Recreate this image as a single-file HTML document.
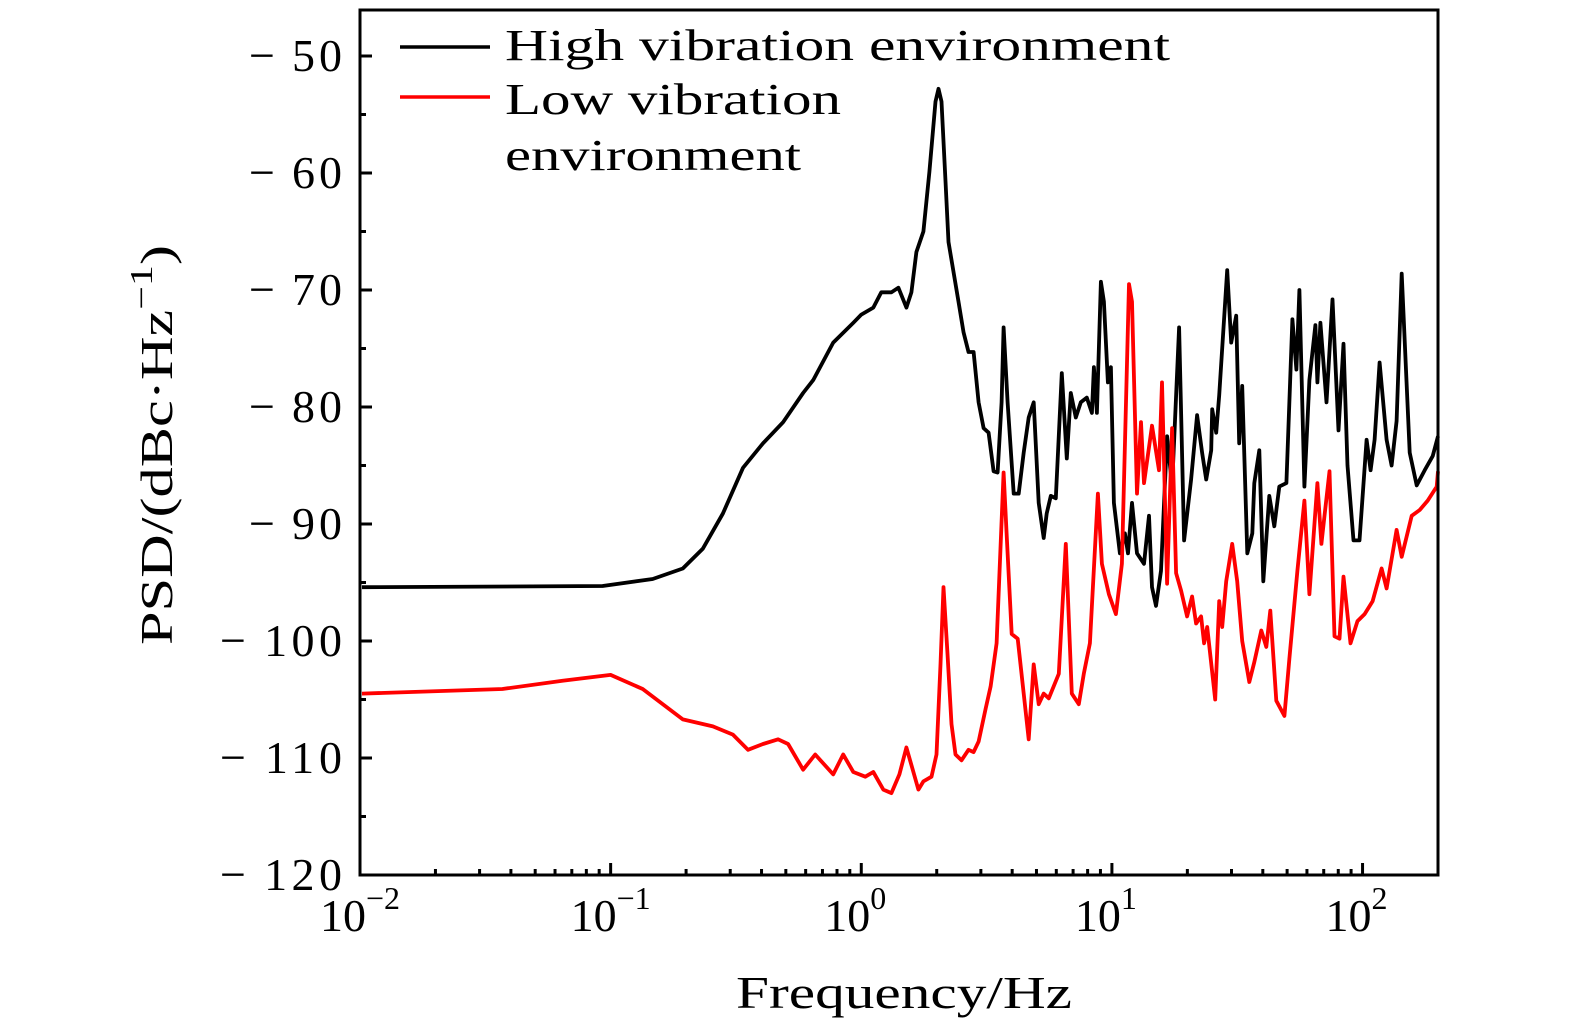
<!DOCTYPE html>
<html><head><meta charset="utf-8"><style>
html,body{margin:0;padding:0;background:#fff}
svg{display:block}
text{font-family:"Liberation Serif",serif;fill:#000}
</style></head><body>
<svg id="chart" width="1575" height="1035" viewBox="0 0 1575 1035" xmlns="http://www.w3.org/2000/svg">
<g id="plot"></g>
</svg>
<script>
// ---- data (frequency as log10(Hz), PSD in dBc/Hz) ----
const highLogFreq = [-1.992,-1.032,-0.832,-0.712,-0.632,-0.552,-0.472,-0.392,-0.312,-0.232,-0.192,-0.112,-0.032,0,0.048,0.08,0.12,0.148,0.18,0.2,0.22,0.248,0.272,0.296,0.308,0.32,0.336,0.348,0.388,0.408,0.428,0.448,0.468,0.488,0.508,0.528,0.544,0.56,0.568,0.584,0.608,0.628,0.648,0.668,0.688,0.708,0.728,0.74,0.756,0.776,0.8,0.82,0.836,0.856,0.876,0.9,0.92,0.928,0.94,0.956,0.968,0.984,0.996,1.008,1.032,1.052,1.064,1.08,1.1,1.128,1.148,1.16,1.176,1.196,1.22,1.24,1.268,1.288,1.316,1.34,1.36,1.376,1.396,1.4,1.416,1.428,1.46,1.476,1.496,1.508,1.52,1.54,1.56,1.568,1.588,1.604,1.628,1.648,1.668,1.696,1.72,1.736,1.748,1.768,1.788,1.812,1.82,1.832,1.856,1.88,1.904,1.924,1.94,1.964,1.988,2.016,2.032,2.048,2.068,2.096,2.116,2.136,2.156,2.188,2.216,2.248,2.28,2.301];
const highPSD = [-95.4,-95.3,-94.7,-93.8,-92.1,-89.1,-85.2,-83.1,-81.3,-78.8,-77.7,-74.5,-72.8,-72.1,-71.5,-70.2,-70.2,-69.8,-71.5,-70.2,-66.75,-65.0,-59.9,-53.9,-52.8,-53.9,-60.7,-65.9,-71.0,-73.6,-75.3,-75.3,-79.6,-81.8,-82.2,-85.5,-85.6,-79.6,-73.2,-79.6,-87.4,-87.4,-83.9,-80.9,-79.6,-88.2,-91.2,-89.1,-87.6,-87.8,-77.1,-84.4,-78.8,-80.9,-79.6,-79.2,-80.5,-76.6,-80.5,-69.3,-71.0,-77.9,-76.6,-88.2,-92.5,-90.8,-92.5,-88.2,-92.5,-93.4,-89.3,-95.4,-97.0,-94.0,-82.5,-86.8,-73.2,-91.4,-86.2,-80.7,-83.9,-86.2,-83.7,-80.2,-82.2,-79.0,-68.3,-74.5,-72.2,-83.1,-78.2,-92.5,-90.8,-86.5,-83.7,-94.9,-87.6,-90.2,-86.8,-86.5,-72.5,-76.8,-70.0,-86.8,-77.7,-73.0,-77.9,-72.8,-79.6,-70.8,-82.0,-74.6,-85.0,-91.4,-91.4,-82.8,-85.4,-82.8,-76.2,-82.8,-85.0,-81.2,-68.6,-83.9,-86.7,-85.4,-84.2,-82.5];
const lowLogFreq = [-1.992,-1.432,-1.192,-1.0,-0.872,-0.712,-0.592,-0.512,-0.452,-0.392,-0.332,-0.292,-0.232,-0.184,-0.112,-0.072,-0.032,0.016,0.048,0.088,0.12,0.152,0.18,0.2,0.228,0.248,0.28,0.3,0.316,0.328,0.344,0.36,0.376,0.4,0.428,0.448,0.468,0.496,0.516,0.54,0.568,0.58,0.6,0.624,0.648,0.668,0.688,0.708,0.728,0.748,0.788,0.816,0.84,0.868,0.888,0.912,0.944,0.96,0.988,1.016,1.04,1.068,1.08,1.1,1.116,1.128,1.16,1.188,1.2,1.22,1.24,1.256,1.276,1.3,1.32,1.336,1.356,1.368,1.38,1.412,1.428,1.44,1.456,1.48,1.5,1.52,1.548,1.568,1.596,1.616,1.632,1.656,1.688,1.708,1.74,1.768,1.788,1.82,1.836,1.848,1.868,1.888,1.908,1.924,1.952,1.98,2.008,2.04,2.076,2.096,2.136,2.156,2.196,2.228,2.26,2.296,2.301];
const lowPSD = [-104.5,-104.1,-103.4,-102.9,-104.1,-106.7,-107.3,-108.0,-109.3,-108.8,-108.4,-108.8,-111.0,-109.7,-111.4,-109.7,-111.2,-111.6,-111.2,-112.7,-113.0,-111.4,-109.1,-110.6,-112.7,-112.0,-111.6,-109.7,-102.0,-95.4,-101.1,-107.1,-109.7,-110.2,-109.3,-109.5,-108.6,-105.8,-103.9,-100.2,-85.6,-90.8,-99.4,-99.8,-104.5,-108.4,-102.0,-105.4,-104.5,-104.9,-102.8,-91.7,-104.5,-105.4,-102.8,-100.2,-87.4,-93.4,-96.0,-97.7,-93.4,-69.5,-71.0,-87.4,-81.3,-86.5,-81.6,-85.4,-77.9,-95.1,-81.8,-94.2,-95.7,-97.9,-96.2,-98.5,-97.9,-100.2,-98.8,-105.0,-96.6,-98.8,-94.9,-91.7,-94.9,-100.0,-103.5,-101.8,-99.1,-100.5,-97.4,-105.1,-106.4,-101.5,-94.0,-88.0,-96.0,-86.5,-91.7,-89.3,-85.5,-99.6,-99.8,-94.5,-100.2,-98.3,-97.7,-96.6,-93.8,-95.5,-90.5,-92.8,-89.3,-88.8,-88.0,-86.8,-85.5];
const yTickValues = [-50,-60,-70,-80,-90,-100,-110,-120];
const xTickExponents = [-2,-1,0,1,2];

// ---- axes ----
const L=360,R=1438,T=10,B=875;
const xLogMin=-2, xLogMax=Math.log10(200);
const yMin=-120, yMax=-50, yAtMax=56;
const sx=v=>L+(v-xLogMin)/(xLogMax-xLogMin)*(R-L);
const sy=v=>B-(v-yMin)/(yMax-yMin)*(B-yAtMax);
const NS="http://www.w3.org/2000/svg";
const g=document.getElementById('plot');
function mk(tag,attrs,parent){const e=document.createElementNS(NS,tag);for(const k in attrs)e.setAttribute(k,attrs[k]);(parent||g).appendChild(e);return e;}

function series(xs,ys,color,name){
  let d='';
  for(let i=0;i<xs.length;i++){d+=(i?'L':'M')+sx(xs[i]).toFixed(1)+','+sy(ys[i]).toFixed(1);}
  const p=mk('path',{d:d,fill:'none',stroke:color,'stroke-width':3.8,'stroke-linejoin':'round'});
  
  
}
series(highLogFreq,highPSD,'#000','high-vibration-line');
series(lowLogFreq,lowPSD,'#f00','low-vibration-line');

const frame=mk('rect',{x:L,y:T,width:R-L,height:B-T,fill:'none',stroke:'#000','stroke-width':3});



for(let v=-120;v<=-50;v+=5){
  const major=v%10===0;
  const t=mk('line',{x1:L,x2:L+(major?12:6),y1:sy(v),y2:sy(v),stroke:'#000','stroke-width':3});
  
  
}
yTickValues.forEach(v=>{
  const s='\u2212\u2009'+Math.abs(v);
  const w=Math.abs(v)>=100?122:93;
  const txt=mk('text',{x:342-w,y:sy(v)+15,'font-size':46,textLength:w,lengthAdjust:'spacing'});
  txt.textContent=s;
  
  
});
for(let e=-2;e<=2;e++){
  for(let m=1;m<10;m++){
    const lv=e+Math.log10(m);
    if(lv>xLogMax)break;
    const t=mk('line',{x1:sx(lv),x2:sx(lv),y1:B,y2:B-(m===1?12:6),stroke:'#000','stroke-width':3});
    
    
  }
}
xTickExponents.forEach(e=>{
  const txt=mk('text',{x:sx(e)+(e<0?0:-6),y:931,'font-size':46,'text-anchor':'middle'});
  txt.textContent='10';
  const sup=mk('tspan',{dy:-22,'font-size':32},txt);
  sup.textContent=e<0?'\u2212'+Math.abs(e):String(e);
  
  
});
const xt=mk('text',{x:736,y:1008,'font-size':46,textLength:336,lengthAdjust:'spacingAndGlyphs'});
xt.textContent='Frequency/Hz';


const yt=mk('text',{x:-200,y:0,'font-size':46,textLength:400,lengthAdjust:'spacingAndGlyphs',transform:'translate(172,445) rotate(-90)'});
yt.textContent='PSD/(dBc\u00b7Hz';
const ys=mk('tspan',{dy:-20,'font-size':32},yt); ys.textContent='\u22121';
const ye=mk('tspan',{dy:20},yt); ye.textContent=')';



const lg=mk('g',{});


const l1=mk('line',{x1:400,x2:490,y1:47,y2:47,stroke:'#000','stroke-width':3.5},lg);


const t1=mk('text',{x:505,y:60,'font-size':44,textLength:665,lengthAdjust:'spacingAndGlyphs'},lg);
t1.textContent='High vibration environment';


const l2=mk('line',{x1:400,x2:490,y1:97,y2:97,stroke:'#f00','stroke-width':3.5},lg);


const t2=mk('text',{x:505,y:114,'font-size':44,textLength:336,lengthAdjust:'spacingAndGlyphs'},lg);
t2.textContent='Low vibration';


const t3=mk('text',{x:505,y:170,'font-size':44,textLength:296,lengthAdjust:'spacingAndGlyphs'},lg);
t3.textContent='environment';


</script>
</body></html>
